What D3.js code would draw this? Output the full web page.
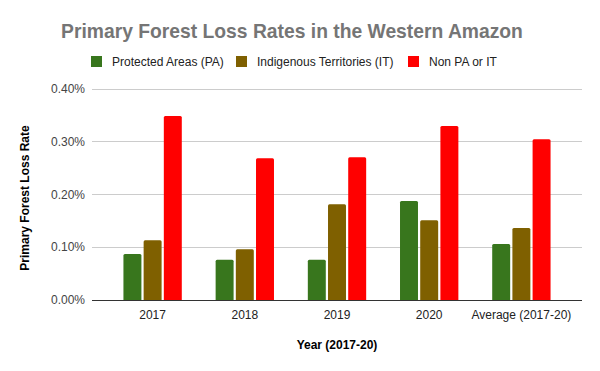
<!DOCTYPE html>
<html><head><meta charset="utf-8">
<script src="https://cdn.jsdelivr.net/npm/d3@7"></script>
<style>body{margin:0;background:#fff}svg{display:block;font-family:"Liberation Sans",Arial,sans-serif}</style>
</head><body>
<svg id="c" width="600" height="371"></svg>
<script>
const categories = ["2017","2018","2019","2020","Average (2017-20)"];
const seriesNames = ["Protected Areas (PA)","Indigenous Territories (IT)","Non PA or IT"];
const seriesColors = ["#38761d","#7f6000","#ff0000"];
const protectedAreas = [0.087,0.076,0.076,0.187,0.106];
const indigenousTerritories = [0.113,0.096,0.181,0.151,0.136];
const nonPAorIT = [0.348,0.268,0.270,0.329,0.304];
const yTicks = [0,0.1,0.2,0.3,0.4];

const series = [protectedAreas, indigenousTerritories, nonPAorIT];
const svg = d3.select("#c");
const L=92, R=582, T=88.5, B=300;
const x0 = d3.scaleBand().domain(categories).range([L,R]).paddingInner(0.367).paddingOuter(0.341);
const x1 = d3.scaleBand().domain(d3.range(3)).range([0,x0.bandwidth()]).paddingInner(0.11);
const y = d3.scaleLinear().domain([0,0.4]).range([B,T]);

// gridlines
svg.append("g").selectAll("line").data(yTicks.slice(1)).join("line")
  .attr("x1",L).attr("x2",R).attr("y1",d=>Math.round(y(d))+0.5).attr("y2",d=>Math.round(y(d))+0.5)
  .attr("stroke","#cccccc").attr("stroke-width",1);

// y axis labels
const ya = svg.append("g").attr("transform",`translate(${L},0)`)
  .call(d3.axisLeft(y).tickValues(yTicks).tickSize(0).tickPadding(7).tickFormat(d=>d3.format(".2f")(d)+"%"));
ya.select(".domain").remove();
ya.selectAll("text").attr("font-size",12).attr("fill","#444").attr("font-family","Liberation Sans, Arial, sans-serif");

// bars
const g = svg.append("g");
categories.forEach((c,i)=>{
  series.forEach((s,j)=>{
    g.append("path")
      .attr("d",()=>{
        const xx=x0(c)+x1(j), w=x1.bandwidth(), yy=y(s[i]), r=1.5;
        return `M${xx},${B}V${yy+r}Q${xx},${yy} ${xx+r},${yy}H${xx+w-r}Q${xx+w},${yy} ${xx+w},${yy+r}V${B}Z`;
      })
      .attr("fill",seriesColors[j]);
  });
});

// x axis
const xa = svg.append("g").attr("transform",`translate(0,${B})`)
  .call(d3.axisBottom(x0).tickSize(0).tickPadding(10));
xa.select(".domain").attr("d",`M${L},0.5H${R}`).attr("stroke","#333").attr("stroke-width",1);
xa.selectAll("text").attr("font-size",12).attr("fill","#222").attr("font-family","Liberation Sans, Arial, sans-serif");

// title
svg.append("text").attr("x",292).attr("y",38).attr("text-anchor","middle")
  .attr("font-size",19.3).attr("font-weight","bold").attr("fill","#757575")
  .text("Primary Forest Loss Rates in the Western Amazon");

// legend
const legX=[91,236,408];
seriesNames.forEach((n,j)=>{
  svg.append("rect").attr("x",legX[j]).attr("y",56).attr("width",11).attr("height",11).attr("fill",seriesColors[j]);
  svg.append("text").attr("x",legX[j]+21).attr("y",65.5).attr("font-size",12).attr("fill","#222").text(n);
});

// axis titles
svg.append("text").attr("x",(L+R)/2).attr("y",349).attr("text-anchor","middle")
  .attr("font-size",12).attr("font-weight","bold").attr("fill","#000").text("Year (2017-20)");
svg.append("text").attr("transform","translate(29,198) rotate(-90)").attr("text-anchor","middle")
  .attr("font-size",12).attr("font-weight","bold").attr("fill","#000").text("Primary Forest Loss Rate");
</script>
</body></html>
